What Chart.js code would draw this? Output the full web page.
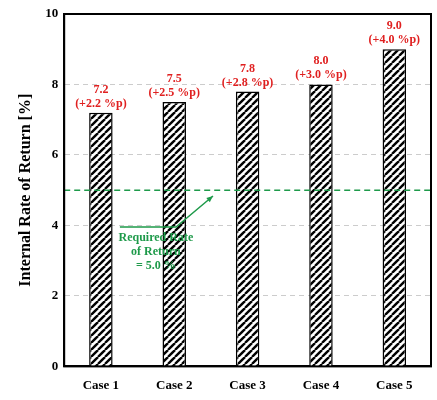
<!DOCTYPE html><html><head><script src="https://cdn.jsdelivr.net/npm/chart.js@4"></script>
<style>body{margin:0;background:#fff}#w{width:437px;height:400px}</style></head><body><div id="w"><canvas id="c"></canvas></div>
<script>
const categories=["Case 1","Case 2","Case 3","Case 4","Case 5"];
const irr=[7.2,7.5,7.8,8.0,9.0];
const deltas=["(+2.2 %p)","(+2.5 %p)","(+2.8 %p)","(+3.0 %p)","(+4.0 %p)"];
const requiredRate=5.0;
const yTicks=[0,2,4,6,8,10];
const F="'Liberation Serif','Times New Roman',serif";
function hatch(){const n=7;const p=document.createElement('canvas');p.width=p.height=n;const g=p.getContext('2d');g.fillStyle='#fff';g.fillRect(0,0,n,n);g.strokeStyle='#000';g.lineWidth=2.4;
for(const o of [-n,0,n]){g.beginPath();g.moveTo(o,n);g.lineTo(o+n,0);g.stroke();}return g.createPattern(p,'repeat');}
const deco={id:'deco',afterDatasetsDraw(ch){const {ctx,scales:{x,y},chartArea:a}=ch;ctx.save();
ctx.strokeStyle='#1e9a4a';ctx.lineWidth=1.5;ctx.setLineDash([6,4]);const yy=y.getPixelForValue(requiredRate);ctx.beginPath();ctx.moveTo(a.left,yy);ctx.lineTo(a.right,yy);ctx.stroke();ctx.setLineDash([]);
ctx.fillStyle='#e02020';ctx.font="bold 12px "+F;ctx.textAlign='center';
irr.forEach((v,i)=>{const px=x.getPixelForValue(i),py=y.getPixelForValue(v);ctx.fillText(v.toFixed(1),px,py-20);ctx.fillText(deltas[i],px,py-6);});
ctx.fillStyle='#1e9a4a';ctx.font="bold 12px "+F;const cx=x.getPixelForValue(0.75);
["Required Rate","of Return","= 5.0 %"].forEach((t,k)=>ctx.fillText(t,cx,241+k*14));
const x1=176,y1=227,x2=213,y2=196;ctx.strokeStyle='#1e9a4a';ctx.lineWidth=1.5;ctx.beginPath();ctx.moveTo(cx-36,y1);ctx.lineTo(x1,y1);ctx.lineTo(x2,y2);ctx.stroke();
const an=Math.atan2(y2-y1,x2-x1);ctx.fillStyle='#1e9a4a';ctx.beginPath();ctx.moveTo(x2,y2);ctx.lineTo(x2-7*Math.cos(an-0.4),y2-7*Math.sin(an-0.4));ctx.lineTo(x2-7*Math.cos(an+0.4),y2-7*Math.sin(an+0.4));ctx.fill();
ctx.strokeStyle='#000';ctx.lineWidth=2;ctx.strokeRect(a.left,a.top,a.right-a.left,a.bottom-a.top);ctx.restore();}};
new Chart(document.getElementById('c'),{type:'bar',data:{labels:categories,datasets:[{data:irr,backgroundColor:hatch(),borderColor:'#000',borderWidth:1.5,barPercentage:0.32,categoryPercentage:1}]},
options:{responsive:true,maintainAspectRatio:false,animation:false,layout:{padding:{top:14,right:6,left:12,bottom:4}},plugins:{legend:{display:false},tooltip:{enabled:false}},
scales:{x:{grid:{display:false},border:{color:'#000',width:2},ticks:{color:'#000',font:{family:F,size:13,weight:'bold'}}},
y:{min:0,max:10,afterBuildTicks(s){s.ticks=yTicks.map(v=>({value:v}));},grid:{color:'#ccc',drawTicks:false},border:{color:'#000',width:2,dash:[5,4]},
ticks:{color:'#000',padding:6,font:{family:F,size:13,weight:'bold'}},title:{display:true,text:'Internal Rate of Return [%]',color:'#000',font:{family:F,size:16,weight:'bold'}}}}},plugins:[deco]});
</script></body></html>
